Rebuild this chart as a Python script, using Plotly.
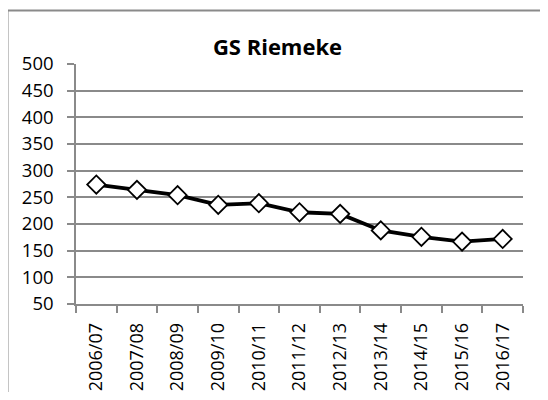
import plotly.graph_objects as go

categories = ["2006/07", "2007/08", "2008/09", "2009/10", "2010/11", "2011/12",
              "2012/13", "2013/14", "2014/15", "2015/16", "2016/17"]
values = [274, 264, 254, 236, 239, 222, 219, 188, 176, 167, 172]
title_text = "GS Riemeke"

# page has an 8px body margin; work in page pixels and convert
OFF = 8
W, H = 532, 384
PL, PR, PT, PB = 76, 523, 64, 304  # plot area in page pixels
L = PL - OFF
T = PT - OFF
R = W - (PR - OFF)
B = H - (PB - OFF)
pw, ph = W - L - R, H - T - B

def px_x(x):
    return (x - PL) / pw

def px_y(y):
    return (PB - y) / ph

FONT = "Open Sans"
GRID = "#8a8a8a"

fig = go.Figure()
fig.add_trace(go.Scatter(
    x=categories, y=values, mode="lines+markers",
    line=dict(color="black", width=3.8),
    marker=dict(symbol="diamond", size=14, color="white",
                line=dict(color="black", width=1.8)),
    showlegend=False,
))

frame = dict(color=GRID, width=2)
fig.update_layout(
    width=W, height=H,
    margin=dict(l=L, r=R, t=T, b=B, autoexpand=False),
    paper_bgcolor="white", plot_bgcolor="white",
    font=dict(family=FONT, size=18, color="black"),
    title=dict(text="<b>" + title_text + "</b>", x=(277.5 - OFF) / W, xanchor="center",
               y=1 - (47 - OFF) / H, yanchor="middle",
               font=dict(family=FONT, size=22, color="black")),
    xaxis=dict(type="category", showgrid=False, showline=True, linecolor=GRID,
               linewidth=1.5, ticks="outside", ticklen=7, tickcolor=GRID,
               tickwidth=1.5, tickson="boundaries", tickangle=-90,
               tickfont=dict(family=FONT, size=18), range=[-0.5, 10.5],
               ticklabelstandoff=10, automargin=False),
    yaxis=dict(range=[50, 500], dtick=50, tick0=50, showgrid=True, gridcolor=GRID,
               gridwidth=1.5, showline=True, linecolor=GRID, linewidth=1.5,
               ticks="outside", ticklen=7, tickcolor=GRID, tickwidth=1.5,
               zeroline=False, tickfont=dict(family=FONT, size=18.5),
               ticklabelstandoff=10, automargin=False),
    shapes=[
        dict(type="line", xref="paper", yref="paper",
             x0=px_x(7.5), x1=px_x(7.5), y0=px_y(OFF + H), y1=px_y(10.5),
             line=frame, layer="below"),
        dict(type="line", xref="paper", yref="paper",
             x0=px_x(6.5), x1=px_x(OFF + W), y0=px_y(10.5), y1=px_y(10.5),
             line=frame, layer="below"),
    ],
)

fig.write_html("out.html")
